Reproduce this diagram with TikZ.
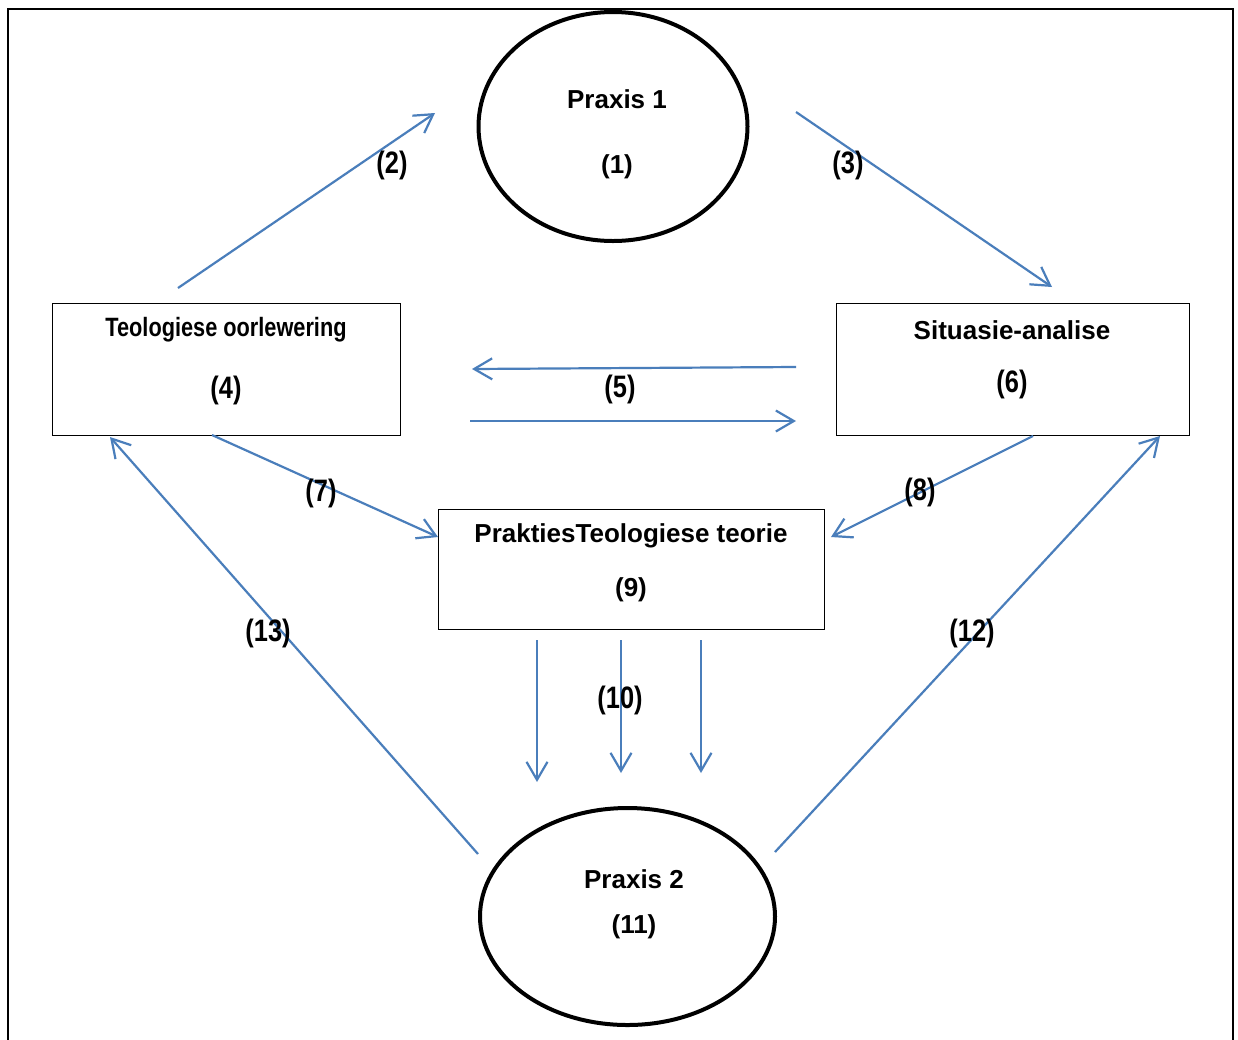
\documentclass[tikz,border=0pt]{standalone}
\usepackage{fontspec}
\setmainfont{Liberation Sans}
\newfontfamily\narrowfont[FakeStretch=0.82]{Liberation Sans}
\usetikzlibrary{shapes.geometric,arrows.meta}
\definecolor{arrowblue}{HTML}{4A7EBB}
\tikzset{
  conn/.style={draw=arrowblue, line width=2.2pt, -{Straight Barb[length=18pt,width=21pt,line width=2.2pt]}},
  txt/.style={font=\fontsize{26}{30}\selectfont\bfseries, inner sep=0pt},
  ntxt/.style={font=\fontsize{26.5}{30}\selectfont\narrowfont\bfseries, inner sep=0pt},
  ltxt/.style={font=\fontsize{31}{34}\selectfont\narrowfont\bfseries, inner sep=0pt},
  boxnode/.style={draw=black, line width=1.3pt, inner sep=0pt, anchor=north west},
  ovalnode/.style={draw=black, line width=4pt, ellipse, inner sep=0pt}
}
\begin{document}
\begin{tikzpicture}[x=1pt,y=-1pt]
\useasboundingbox (0,0) rectangle (1238,1039);
\fill[white] (0,0) rectangle (1238,1039);
% frame
\draw[line width=2.5pt] (8,1060) -- (8,9) -- (1233,9) -- (1233,1060);

% ellipses
\node[ovalnode, minimum width=269pt, minimum height=229pt] (p1) at (613,126.5) {};
\node[ovalnode, minimum width=295pt, minimum height=217pt] (p2) at (627.5,916.5) {};
\node[txt] (p1t) at (617,99) {Praxis 1};
\node[txt] (p1n) at (617,167) {(1)};
\node[txt] (p2t) at (634,879) {Praxis 2};
\node[txt] (p2n) at (634,927) {(11)};

% boxes
\node[boxnode, minimum width=348pt, minimum height=132pt] (teo) at (52,303) {};
\node[boxnode, minimum width=353pt, minimum height=132pt] (sit) at (836,303) {};
\node[boxnode, minimum width=386pt, minimum height=120pt] (pt) at (438,509) {};
\node[ntxt] (teot) at (226,330) {Teologiese oorlewering};
\node[ltxt] (teon) at (226,390) {(4)};
\node[txt] (sitt) at (1012,330) {Situasie-analise};
\node[ltxt] (sitn) at (1012,384) {(6)};
\node[txt] (ptt) at (631,536) {PraktiesTeologiese teorie};
\node[txt] (ptn) at (631,590) {(9)};

% connector end points
\coordinate (a2s) at (178,288);  \coordinate (a2e) at (435,113);
\coordinate (a3s) at (796,112);  \coordinate (a3e) at (1052,287);
\coordinate (a5as) at (796,367); \coordinate (a5ae) at (472,369);
\coordinate (a5bs) at (470,421); \coordinate (a5be) at (796,421);
\coordinate (a7s) at (212,435);  \coordinate (a7e) at (438,537);
\coordinate (a8s) at (1033,436); \coordinate (a8e) at (831,537);
\coordinate (a10as) at (537,640); \coordinate (a10ae) at (537,782);
\coordinate (a10bs) at (621,640); \coordinate (a10be) at (621,773);
\coordinate (a10cs) at (701,640); \coordinate (a10ce) at (701,773);
\coordinate (a12s) at (775,852); \coordinate (a12e) at (1160,436);
\coordinate (a13s) at (478,854); \coordinate (a13e) at (110,437);

\draw[conn] (a2s) -- (a2e);
\draw[conn] (a3s) -- (a3e);
\draw[conn] (a5as) -- (a5ae);
\draw[conn] (a5bs) -- (a5be);
\draw[conn] (a7s) -- (a7e);
\draw[conn] (a8s) -- (a8e);
\draw[conn] (a10as) -- (a10ae);
\draw[conn] (a10bs) -- (a10be);
\draw[conn] (a10cs) -- (a10ce);
\draw[conn] (a12s) -- (a12e);
\draw[conn] (a13s) -- (a13e);

% connector labels
\node[ltxt] (l2) at (392,165) {(2)};
\node[ltxt] (l3) at (848,165) {(3)};
\node[ltxt] (l5) at (620,389) {(5)};
\node[ltxt] (l7) at (321,493) {(7)};
\node[ltxt] (l8) at (920,492) {(8)};
\node[ltxt] (l10) at (620,700) {(10)};
\node[ltxt] (l12) at (972,633) {(12)};
\node[ltxt] (l13) at (268,633) {(13)};
\end{tikzpicture}
\end{document}
